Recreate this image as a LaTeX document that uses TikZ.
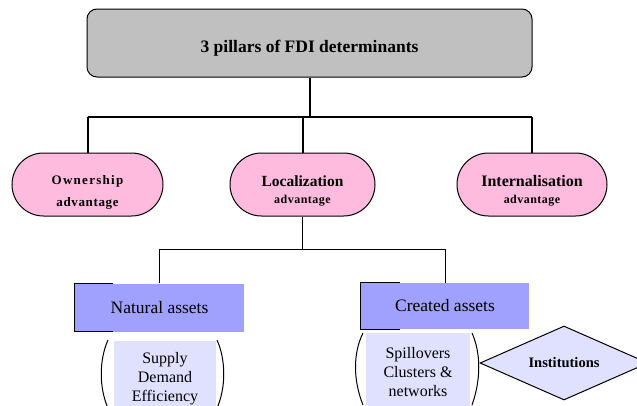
\documentclass[tikz,border=0pt]{standalone}
\usepackage{fontspec}
\setmainfont{Liberation Serif}
\usetikzlibrary{shapes.geometric,shapes.misc}
\definecolor{topgray}{RGB}{192,192,192}
\definecolor{pinkfill}{RGB}{255,187,222}
\definecolor{lavhead}{RGB}{160,160,255}
\definecolor{lavlight}{RGB}{224,224,255}
\tikzset{
  thickconn/.style={line width=2pt},
  thinconn/.style={line width=0.8pt},
  pillar/.style={rounded rectangle, draw, line width=1pt, fill=pinkfill, minimum height=63pt, inner sep=0pt, align=center, font=\bfseries},
  headbox/.style={fill=lavhead, minimum height=48pt, inner sep=0pt, font=\fontsize{17.5}{20}\selectfont},
  listbox/.style={fill=lavlight, inner sep=0pt, align=center, anchor=north, font=\fontsize{16}{19}\selectfont},
  paren/.style={line width=1pt},
}
\begin{document}
\begin{tikzpicture}[x=1pt,y=-1pt]
\useasboundingbox (0,0) rectangle (637,405);
\begin{scope}
\clip (0,0) rectangle (637,405);
\node[draw, line width=1pt, fill=topgray, rounded corners=10pt, minimum width=445pt, minimum height=68pt, font=\bfseries\fontsize{17.5}{20}\selectfont] (top) at (309.5,43) {\raisebox{-5pt}[12pt][4pt]{3 pillars of FDI determinants}};

\node[pillar, minimum width=151pt] (own) at (87.5,184.5) {\addfontfeatures{LetterSpace=10}\fontsize{13}{16}\selectfont\rule{0pt}{25pt}Ownership\\[10pt]\addfontfeatures{LetterSpace=5}\fontsize{13}{16}\selectfont advantage};
\node[pillar, minimum width=145pt] (loc) at (302.5,184.5) {\fontsize{15.5}{18}\selectfont\rule{0pt}{23pt}Localization\\[5pt]\addfontfeatures{LetterSpace=4}\fontsize{12}{14}\selectfont advantage};
\node[pillar, minimum width=150pt] (int) at (532,184.5) {\fontsize{16}{18}\selectfont\rule{0pt}{23pt}Internalisation\\[5pt]\addfontfeatures{LetterSpace=4}\fontsize{12}{14}\selectfont advantage};

\coordinate (hbar) at (0,117);
\draw[thickconn] (top.south) -- (top.south |- hbar);
\draw[thickconn] (own.north |- hbar) -- (int.north |- hbar);
\draw[thickconn] (own.north |- hbar) -- (own.north);
\draw[thickconn] (loc.north |- hbar) -- (loc.north);
\draw[thickconn] (int.north |- hbar) -- (int.north);

\node[headbox, minimum width=169pt] (nat) at (159.5,307.5) {Natural assets};
\node[headbox, minimum width=168pt, minimum height=46pt] (cre) at (445,306) {Created assets};
\draw[thinconn] (nat.north west) ++(38,0) -- (nat.north west) -- (nat.south west) -- ++(38,0);
\draw[thinconn] (cre.north west) ++(39,0) -- (cre.north west) -- (cre.south west) -- ++(39,0);

\coordinate (lbar) at (0,249);
\draw[thinconn] (loc.south) -- (loc.south |- lbar);
\draw[thinconn] (nat.north |- lbar) -- (cre.north |- lbar);
\draw[thinconn] (nat.north |- lbar) -- (nat.north);
\draw[thinconn] (cre.north |- lbar) -- (cre.north);

\node[listbox, minimum width=102pt, minimum height=70pt, text depth=0pt] (natl) at (165,341) {\rule{0pt}{12pt}Supply\\Demand\\Efficiency};
\node[listbox, minimum width=104pt, minimum height=75pt] (crel) at (418,333) {\rule{0pt}{14pt}Spillovers\\Clusters \&\\networks};

\draw[paren] (108,340) .. controls (99,360) and (99,388) .. (108,408);
\draw[paren] (217,340) .. controls (226,360) and (226,388) .. (217,408);
\draw[paren] (363,333) .. controls (353,353) and (353,380) .. (363,405);
\draw[paren] (472,333) .. controls (481,353) and (481,380) .. (472,405);

\node[diamond, draw, line width=1pt, fill=lavlight, minimum width=168pt, minimum height=74pt, aspect=2.27, inner sep=0pt, font=\bfseries\fontsize{14.5}{16}\selectfont] (inst) at (564,363) {Institutions};
\end{scope}
\end{tikzpicture}
\end{document}
